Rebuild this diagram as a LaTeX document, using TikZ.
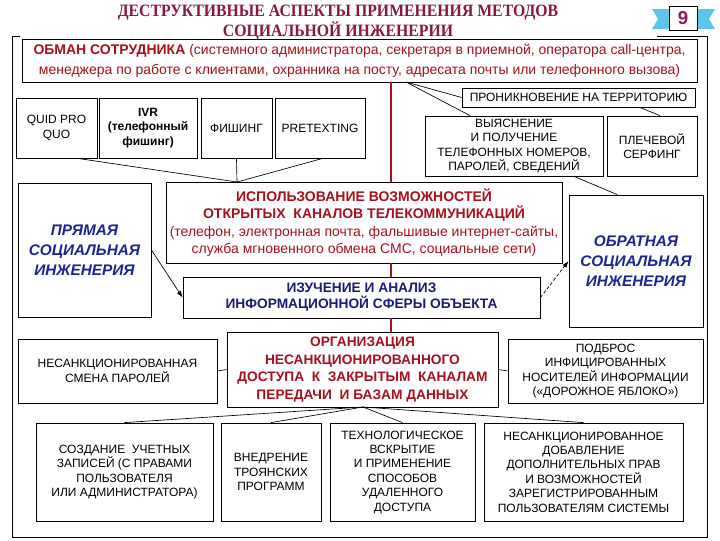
\documentclass[tikz,border=0pt]{standalone}
\usepackage{fontspec}
\setmainfont{Liberation Sans}
\newfontfamily\titlefont[FakeStretch=0.91]{Liberation Serif}
\usetikzlibrary{arrows.meta}

\definecolor{titlered}{HTML}{8C1838}
\definecolor{deepred}{HTML}{A8101C}
\definecolor{navyblue}{HTML}{1A1A78}
\definecolor{italblue}{HTML}{1C2494}
\definecolor{ribbon}{HTML}{5CC6EA}
\definecolor{badgenum}{HTML}{8A1A5C}

\tikzset{
  box/.style={draw, fill=white, line width=0.6pt, align=center, inner sep=0pt},
  wh/.style 2 args={minimum width=#1*0.75pt, minimum height=#2*0.75pt},
  smalltxt/.style={font=\fontsize{9}{10.8}\selectfont},
  redtxt/.style={text=deepred, font=\bfseries\fontsize{10.3}{13.2}\selectfont},
  bluetxt/.style={text=italblue, font=\bfseries\itshape\fontsize{11.5}{15}\selectfont},
  link/.style={line width=0.5pt},
  axisline/.style={draw=deepred, line width=1.1pt},
}

\begin{document}
\begin{tikzpicture}[x=0.75pt,y=0.75pt,yscale=-1,xscale=1]
    \useasboundingbox (0,0) rectangle (720,540);
    % outer frame
    \draw[line width=0.7pt] (20,36) -- (12,36) -- (12,537) -- (707,537) -- (707,36) -- (657,36);
    % Title
    \node[font=\titlefont\bfseries\fontsize{13}{13.5}\selectfont, text=titlered, align=center] (title) at (338,22.5) {ДЕСТРУКТИВНЫЕ АСПЕКТЫ ПРИМЕНЕНИЯ МЕТОДОВ\\СОЦИАЛЬНОЙ ИНЖЕНЕРИИ};
    % badge ribbon
    \fill[ribbon] (652,9) -- (674,9) -- (674,29) -- (652,29) -- (658,19) -- cycle;
    \fill[ribbon] (693,9) -- (715,9) -- (709,19) -- (715,29) -- (693,29) -- cycle;
    \node[box, wh={28}{24}, text=badgenum, font=\bfseries\fontsize{14}{14}\selectfont] (badge) at (683,18) {9};
    % top box
    \node[box, wh={675}{43}, text=deepred, font=\fontsize{10.5}{15}\selectfont] (obman) at (359.5,60.5) {{\bfseries ОБМАН СОТРУДНИКА} (системного администратора, секретаря в приемной, оператора call-центра,\\менеджера по работе с клиентами, охранника на посту, адресата почты или телефонного вызова)};
    % methods row
    \node[box, wh={81}{60}, smalltxt] (quid) at (56.5,128) {QUID PRO\\QUO};
    \node[box, wh={98}{60}, font=\bfseries\fontsize{9}{10.8}\selectfont] (ivr) at (148,128) {IVR\\(телефонный\\фишинг)};
    \node[box, wh={71}{60}, smalltxt] (phish) at (236.5,128) {ФИШИНГ};
    \node[box, wh={90}{60}, smalltxt] (pretext) at (320,128) {PRETEXTING};
    \node[box, wh={233}{19}, smalltxt] (pronik) at (578.5,97.5) {ПРОНИКНОВЕНИЕ НА ТЕРРИТОРИЮ};
    \node[box, wh={178}{60}, smalltxt] (vyyasn) at (514,146) {ВЫЯСНЕНИЕ\\И ПОЛУЧЕНИЕ\\ТЕЛЕФОННЫХ НОМЕРОВ,\\ПАРОЛЕЙ, СВЕДЕНИЙ};
    \node[box, wh={90}{60}, smalltxt] (plech) at (652,146) {ПЛЕЧЕВОЙ\\СЕРФИНГ};
    % middle
    \node[box, wh={396}{81}, text=deepred, font=\fontsize{10.5}{13}\selectfont] (ispolz) at (364,222.5) {{\bfseries ИСПОЛЬЗОВАНИЕ ВОЗМОЖНОСТЕЙ}\\{\bfseries ОТКРЫТЫХ\ \ КАНАЛОВ ТЕЛЕКОММУНИКАЦИЙ}\\(телефон, электронная почта, фальшивые интернет-сайты,\\служба мгновенного обмена СМС, социальные сети)};
    \node[box, wh={133}{134}, bluetxt] (pryam) at (84.5,250) {ПРЯМАЯ\\СОЦИАЛЬНАЯ\\ИНЖЕНЕРИЯ};
    \node[box, wh={357}{41}, text=navyblue, font=\bfseries\fontsize{10.3}{12}\selectfont] (izuch) at (361.5,297.5) {ИЗУЧЕНИЕ И АНАЛИЗ\\ИНФОРМАЦИОННОЙ СФЕРЫ ОБЪЕКТА};
    \node[box, wh={134}{132}, bluetxt] (obrat) at (636,261) {ОБРАТНАЯ\\СОЦИАЛЬНАЯ\\ИНЖЕНЕРИЯ};
    \node[box, wh={271}{75}, redtxt] (organiz) at (362.5,369.5) {ОРГАНИЗАЦИЯ\\НЕСАНКЦИОНИРОВАННОГО\\ДОСТУПА\ \ К\ \ ЗАКРЫТЫМ\ \ КАНАЛАМ\\ПЕРЕДАЧИ\ \ И БАЗАМ ДАННЫХ};
    \node[box, wh={199}{64}, smalltxt] (smena) at (117.5,371) {НЕСАНКЦИОНИРОВАННАЯ\\СМЕНА ПАРОЛЕЙ};
    \node[box, wh={195}{64}, smalltxt] (podbros) at (605.5,371) {ПОДБРОС\\ИНФИЦИРОВАННЫХ\\НОСИТЕЛЕЙ ИНФОРМАЦИИ\\(«ДОРОЖНОЕ ЯБЛОКО»)};
    % bottom row
    \node[box, wh={177}{98}, smalltxt] (sozd) at (124.5,472) {СОЗДАНИЕ\ \ УЧЕТНЫХ\\ЗАПИСЕЙ (С ПРАВАМИ\\ПОЛЬЗОВАТЕЛЯ\\ИЛИ АДМИНИСТРАТОРА)};
    \node[box, wh={100}{98}, smalltxt] (vnedr) at (271,472) {ВНЕДРЕНИЕ\\ТРОЯНСКИХ\\ПРОГРАММ};
    \node[box, wh={145}{98}, smalltxt] (tech) at (402.5,472) {ТЕХНОЛОГИЧЕСКОЕ\\ВСКРЫТИЕ\\И ПРИМЕНЕНИЕ\\СПОСОБОВ\\УДАЛЕННОГО\\ДОСТУПА};
    \node[box, wh={199}{98}, smalltxt] (dobavl) at (583.5,472) {НЕСАНКЦИОНИРОВАННОЕ\\ДОБАВЛЕНИЕ\\ДОПОЛНИТЕЛЬНЫХ ПРАВ\\И ВОЗМОЖНОСТЕЙ\\ЗАРЕГИСТРИРОВАННЫМ\\ПОЛЬЗОВАТЕЛЯМ СИСТЕМЫ};
    % red axis
    \coordinate (axis) at (391,0);
    \draw[axisline] (obman.south -| axis) -- (ispolz.north -| axis);
    \draw[axisline] (ispolz.south -| axis) -- (izuch.north -| axis);
    \draw[axisline] (izuch.south -| axis) -- (organiz.north -| axis);
    % connectors, top
    \coordinate (fork1) at (406,82);
    \draw[link] (fork1) -- (pronik.west);
    \draw[link] (fork1) -- ([xshift=-33pt]vyyasn.north);
    \draw[link] ([xshift=46pt]pronik.south) -- ([xshift=6pt]plech.north);
    \coordinate (meet1) at (237,182);
    \draw[link] ([xshift=16pt]quid.south) -- (meet1);
    \draw[link] (phish.south) -- (meet1);
    \draw[link] ([xshift=2pt]pretext.south) -- (meet1);
    \draw[link] ([xshift=45pt]vyyasn.south) -- ([xshift=-14pt]obrat.north);
    % arrows
    \draw[link, -{Latex[length=5pt,width=3.5pt]}] (pryam.east) -- (izuch.west);
    \draw[link, dash pattern=on 2.5pt off 1.5pt, -{Latex[length=5pt,width=3.5pt]}] (izuch.east) -- (obrat.west);
    % connectors, bottom
    \draw[link] (smena.east) -- (organiz.west);
    \draw[link] (organiz.east) -- (podbros.west);
    \coordinate (meet2) at (363,407);
    \draw[link] (meet2) -- (sozd.north);
    \draw[link] (meet2) -- (vnedr.north);
    \draw[link] (meet2) -- (tech.north);
    \draw[link] (meet2) -- (dobavl.north);
\end{tikzpicture}
\end{document}
